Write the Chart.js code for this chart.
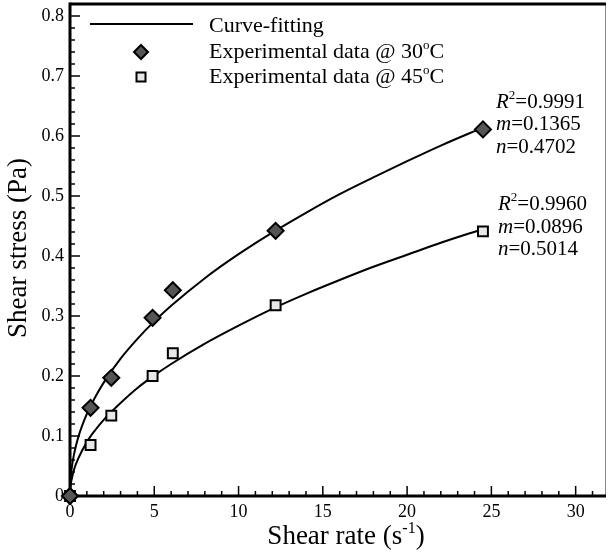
<!DOCTYPE html>
<html>
<head>
<meta charset="utf-8">
<script src="https://cdn.jsdelivr.net/npm/chart.js@4.4.0/dist/chart.umd.min.js"></script>
<style>
html,body{margin:0;padding:0;background:#fff;}
canvas{display:block;}
</style>
</head>
<body>
<canvas id="c" width="608" height="553"></canvas>
<script>
// ---- data ----
const shearRate = [0, 1.22, 2.45, 4.9, 6.1, 12.2, 24.5];
const stress30 = [0, 0.147, 0.197, 0.297, 0.343, 0.442, 0.611];
const stress45 = [0, 0.085, 0.134, 0.200, 0.238, 0.318, 0.441];
const fitRate  = [0, 0.02, 0.1, 0.25, 0.5, 1, 1.5, 2, 3, 4, 5, 6, 8, 10, 12, 14, 16, 18, 20, 22, 24.5];
const fit30    = [0, 0.022, 0.046, 0.071, 0.099, 0.137, 0.165, 0.189, 0.229, 0.262, 0.291, 0.317, 0.363, 0.403, 0.439, 0.472, 0.503, 0.531, 0.558, 0.584, 0.614];
const fit45    = [0, 0.013, 0.028, 0.045, 0.063, 0.090, 0.110, 0.127, 0.155, 0.180, 0.201, 0.220, 0.254, 0.284, 0.312, 0.337, 0.360, 0.382, 0.402, 0.422, 0.445];
const xTicks = [0, 5, 10, 15, 20, 25, 30];
const yTicks = [0, 0.1, 0.2, 0.3, 0.4, 0.5, 0.6, 0.7, 0.8];
const yTickLabels = ['0', '0.1', '0.2', '0.3', '0.4', '0.5', '0.6', '0.7', '0.8'];
const legendLabels = ['Curve-fitting', 'Experimental data @ 30', 'Experimental data @ 45'];
const fitStats30 = ['0.9991', '0.1365', '0.4702'];
const fitStats45 = ['0.9960', '0.0896', '0.5014'];

const pts = (xs, ys) => xs.map((x, i) => ({x: x, y: ys[i]}));
const SERIF = "'Liberation Serif', 'Times New Roman', serif";

function runs(ctx, x, y, parts, size) {
  let cx = x;
  for (const [t, st] of parts) {
    if (st === 's') {
      ctx.font = `${Math.round(size * 0.6)}px ${SERIF}`;
      ctx.fillText(t, cx, y - size * 0.42);
    } else if (st === 'i') {
      ctx.font = `italic ${size}px ${SERIF}`;
      ctx.fillText(t, cx, y);
    } else {
      ctx.font = `${size}px ${SERIF}`;
      ctx.fillText(t, cx, y);
    }
    cx += ctx.measureText(t).width;
  }
  return cx;
}

const decor = {
  id: 'decor',
  beforeDatasetsDraw(chart) {
    const {ctx, chartArea: a, scales: {x, y}} = chart;
    ctx.save();
    ctx.strokeStyle = '#000';
    ctx.lineWidth = 1.5;
    for (let v = 0; v <= 31.5; v += 1) {
      const px = x.getPixelForValue(v);
      const major = Math.abs(v % 5) < 1e-6;
      ctx.beginPath();
      ctx.moveTo(px, a.bottom);
      ctx.lineTo(px, a.bottom - (major ? 10 : 5));
      ctx.stroke();
    }
    for (let k = 0; k <= 41; k++) {
      const v = k * 0.02;
      const py = y.getPixelForValue(v);
      const major = k % 5 === 0;
      ctx.beginPath();
      ctx.moveTo(a.left, py);
      ctx.lineTo(a.left + (major ? 10 : 5), py);
      ctx.stroke();
    }
    ctx.strokeStyle = '#888';
    ctx.lineWidth = 1;
    ctx.beginPath();
    ctx.moveTo(a.right - 0.5, a.top);
    ctx.lineTo(a.right - 0.5, a.bottom);
    ctx.stroke();
    ctx.strokeStyle = '#000';
    ctx.lineWidth = 3;
    ctx.beginPath();
    ctx.moveTo(a.left, a.top);
    ctx.lineTo(a.right, a.top);
    ctx.stroke();
    ctx.beginPath();
    ctx.moveTo(a.left, a.top - 1.5);
    ctx.lineTo(a.left, a.bottom);
    ctx.lineTo(a.right, a.bottom);
    ctx.stroke();

    ctx.fillStyle = '#000';
    ctx.font = `18px ${SERIF}`;
    ctx.textBaseline = 'middle';
    ctx.textAlign = 'right';
    yTicks.forEach((v, i) => {
      ctx.fillText(yTickLabels[i], a.left - 6, y.getPixelForValue(v));
    });
    ctx.textAlign = 'center';
    xTicks.forEach(v => {
      ctx.fillText(String(v), x.getPixelForValue(v), a.bottom + 16);
    });

    ctx.textBaseline = 'alphabetic';
    ctx.font = `27px ${SERIF}`;
    ctx.save();
    ctx.translate(26, 248);
    ctx.rotate(-Math.PI / 2);
    ctx.textAlign = 'center';
    ctx.fillText('Shear stress (Pa)', 0, 0);
    ctx.restore();
    ctx.textAlign = 'left';
    const t1 = 'Shear rate (s', t2 = '-1', t3 = ')';
    ctx.font = `27px ${SERIF}`;
    const w1 = ctx.measureText(t1).width, w3 = ctx.measureText(t3).width;
    ctx.font = `16px ${SERIF}`;
    const w2 = ctx.measureText(t2).width;
    let sx = 346 - (w1 + w2 + w3) / 2;
    const by = 544;
    ctx.font = `27px ${SERIF}`;
    ctx.fillText(t1, sx, by);
    ctx.font = `16px ${SERIF}`;
    ctx.fillText(t2, sx + w1, by - 11);
    ctx.font = `27px ${SERIF}`;
    ctx.fillText(t3, sx + w1 + w2, by);
    ctx.restore();
  },
  afterDraw(chart) {
    const {ctx} = chart;
    ctx.save();
    ctx.fillStyle = '#000';
    ctx.textBaseline = 'alphabetic';
    ctx.textAlign = 'left';
    ctx.strokeStyle = '#000';
    ctx.lineWidth = 2;
    ctx.beginPath();
    ctx.moveTo(90, 24);
    ctx.lineTo(193, 24);
    ctx.stroke();
    ctx.fillStyle = '#555';
    ctx.beginPath();
    ctx.moveTo(141, 45); ctx.lineTo(148, 52); ctx.lineTo(141, 59); ctx.lineTo(134, 52); ctx.closePath();
    ctx.fill(); ctx.stroke();
    ctx.fillStyle = '#e8e8e8';
    ctx.beginPath();
    ctx.rect(136.5, 72.5, 9, 9);
    ctx.fill(); ctx.stroke();
    ctx.fillStyle = '#000';
    runs(ctx, 209, 32, [[legendLabels[0], 'n']], 22);
    runs(ctx, 209, 58, [[legendLabels[1], 'n'], ['o', 's'], ['C', 'n']], 22);
    runs(ctx, 209, 83, [[legendLabels[2], 'n'], ['o', 's'], ['C', 'n']], 22);

    const ann = (x0, ys, st) => {
      runs(ctx, x0, ys[0], [['R', 'i'], ['2', 's'], ['=' + st[0], 'n']], 21);
      runs(ctx, x0, ys[1], [['m', 'i'], ['=' + st[1], 'n']], 21);
      runs(ctx, x0, ys[2], [['n', 'i'], ['=' + st[2], 'n']], 21);
    };
    ann(496, [108, 130, 153], fitStats30);
    ann(498, [210, 233, 255], fitStats45);
    ctx.restore();
  }
};

new Chart(document.getElementById('c'), {
  type: 'scatter',
  data: {
    datasets: [
      {
        type: 'line', label: 'fit30', data: pts(fitRate, fit30),
        borderColor: '#000', borderWidth: 2, pointRadius: 0, fill: false,
        cubicInterpolationMode: 'monotone', order: 3
      },
      {
        type: 'line', label: 'fit45', data: pts(fitRate, fit45),
        borderColor: '#000', borderWidth: 2, pointRadius: 0, fill: false,
        cubicInterpolationMode: 'monotone', order: 3
      },
      {
        label: '30', data: pts(shearRate, stress30),
        pointStyle: 'rectRot', pointRadius: 8, pointBackgroundColor: '#555',
        pointBorderColor: '#000', pointBorderWidth: 2, clip: false, order: 1
      },
      {
        label: '45', data: pts(shearRate, stress45),
        pointStyle: 'rect', pointRadius: 7, pointBackgroundColor: '#e8e8e8',
        pointBorderColor: '#000', pointBorderWidth: 2, clip: false, order: 2
      }
    ]
  },
  options: {
    responsive: false,
    animation: false,
    events: [],
    layout: {autoPadding: false, padding: {left: 70, top: 4, right: 2, bottom: 57}},
    plugins: {legend: {display: false}, tooltip: {enabled: false}},
    scales: {
      x: {type: 'linear', min: 0, max: 31.8, display: false},
      y: {type: 'linear', min: 0, max: 0.82, display: false}
    }
  },
  plugins: [decor]
});
</script>
</body>
</html>
